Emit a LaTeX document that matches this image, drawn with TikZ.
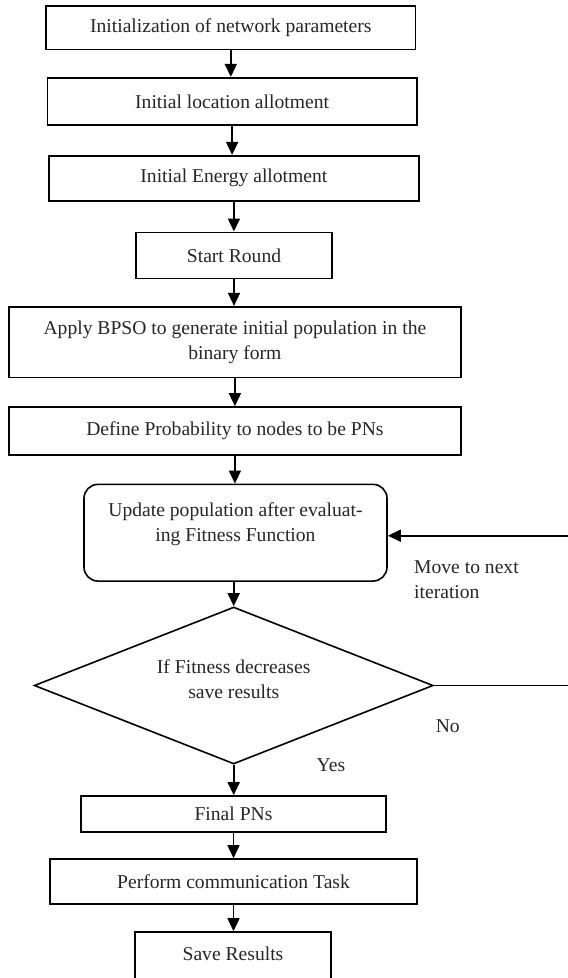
\documentclass[tikz,border=0pt]{standalone}
\usepackage{fontspec}
\setmainfont{Liberation Serif}
\usetikzlibrary{arrows.meta,shapes.geometric}
\definecolor{txt}{HTML}{262626}
\tikzset{
  box/.style={draw=black, line width=1.6pt, rectangle, inner sep=0pt, text=txt, align=center,
    font=\fontsize{19.6}{25}\selectfont},
  rbox/.style={box, rounded corners=14pt},
  dbox/.style={draw=black, line width=1.6pt, diamond, inner sep=0pt},
  lbl/.style={text=txt, inner sep=0pt, font=\fontsize{19.6}{25}\selectfont},
  arr/.style={line width=1.6pt, -{Triangle[length=13pt,width=12pt]}}
}
\begin{document}
\begin{tikzpicture}[x=1pt,y=-1pt]
\useasboundingbox (0,0) rectangle (568,978);
\clip (0,0) rectangle (568,978);
\node[box, minimum width=369.6, minimum height=43.3] (b1) at (230.8,27.65) {Initialization of network parameters};
\node[box, minimum width=369.2, minimum height=47.3] (b2) at (232.1,101.35) {Initial location allotment};
\node[box, minimum width=369.8, minimum height=45] (b3) at (233.9,178.2) {Initial Energy allotment};
\node[box, minimum width=196, minimum height=46] (b4) at (234,255.3) {Start Round};
\node[box, minimum width=452.3, minimum height=70.8] (b5) at (234.9,342.1) {Apply BPSO to generate initial population in the\\binary form};
\node[box, minimum width=452.3, minimum height=48] (b6) at (234.9,431) {Define Probability to nodes to be PNs};
\node[rbox, minimum width=303, minimum height=96.7] (upd) at (235.5,532.7) {};
\node[lbl, align=center] (updt) at (235.5,524.2) {Update population after evaluat-\\ing Fitness Function};
\node[dbox, minimum width=399, minimum height=157] (dec) at (233.7,685.5) {};
\node[lbl, align=center] (dect) at (233.7,679.5) {If Fitness decreases\\save results};
\node[box, minimum width=305, minimum height=36] (b7) at (233.5,814) {Final PNs};
\node[box, minimum width=367, minimum height=45] (b8) at (233.5,881.5) {Perform communication Task};
\node[box, minimum width=196, minimum height=48] (b9) at (233,956) {};
\node[lbl] (b9t) at (233,953.3) {Save Results};
\node[lbl, align=left, anchor=west] (mv) at (414,579.5) {Move to next\\iteration};
\node[lbl] (no) at (447.8,725.7) {No};
\node[lbl] (yes) at (331,765) {Yes};
\draw[arr] (b1.south) -- (b1.south |- b2.north);
\draw[arr] (b2.south) -- (b2.south |- b3.north);
\draw[arr] (b3.south) -- (b3.south |- b4.north);
\draw[arr] (b4.south) -- (b4.south |- b5.north);
\draw[arr] (b5.south) -- (b5.south |- b6.north);
\draw[arr] (b6.south) -- (b6.south |- upd.north);
\draw[arr] (dec.north |- upd.south) -- (dec.north);
\draw[arr] (dec.south) -- (dec.south |- b7.north);
\draw[arr] (b7.south) -- (b7.south |- b8.north);
\draw[arr] (b8.south) -- (b8.south |- b9.north);
\draw[arr] (dec.east) -- ++(160,0) |- ([yshift=-3pt]upd.east);
\end{tikzpicture}
\end{document}
